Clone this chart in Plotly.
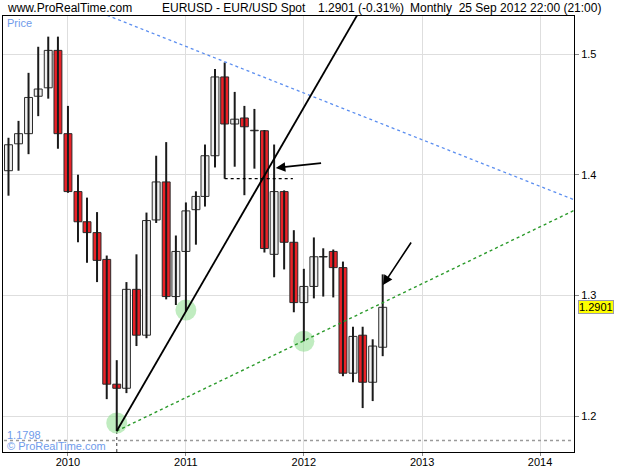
import plotly.graph_objects as go

# ---------------- data ----------------
months = ["2009-07-01", "2009-08-01", "2009-09-01", "2009-10-01", "2009-11-01", "2009-12-01",
          "2010-01-01", "2010-02-01", "2010-03-01", "2010-04-01", "2010-05-01", "2010-06-01",
          "2010-07-01", "2010-08-01", "2010-09-01", "2010-10-01", "2010-11-01", "2010-12-01",
          "2011-01-01", "2011-02-01", "2011-03-01", "2011-04-01", "2011-05-01", "2011-06-01",
          "2011-07-01", "2011-08-01", "2011-09-01", "2011-10-01", "2011-11-01", "2011-12-01",
          "2012-01-01", "2012-02-01", "2012-03-01", "2012-04-01", "2012-05-01", "2012-06-01",
          "2012-07-01", "2012-08-01", "2012-09-01"]
opens = [1.4033, 1.4256, 1.4340, 1.4650, 1.4720, 1.5030,
         1.4340, 1.3860, 1.3610, 1.3520, 1.3298, 1.2264,
         1.2230, 1.3050, 1.2670, 1.3625, 1.3940, 1.2990,
         1.3364, 1.3710, 1.3820, 1.4157, 1.4810, 1.4420,
         1.4470, 1.4364, 1.4364, 1.3340, 1.3860, 1.3440,
         1.2940, 1.3074, 1.3318, 1.3364, 1.3230, 1.2355,
         1.2670, 1.2280, 1.2570]
highs = [1.4306, 1.4446, 1.4844, 1.5060, 1.5144, 1.5144,
         1.4570, 1.4000, 1.3810, 1.3690, 1.3330, 1.2463,
         1.3110, 1.3340, 1.3686, 1.4157, 1.4270, 1.3496,
         1.3770, 1.3862, 1.4250, 1.4876, 1.4930, 1.4686,
         1.4570, 1.4545, 1.4370, 1.4250, 1.3870, 1.3540,
         1.3220, 1.3480, 1.3390, 1.3380, 1.3280, 1.2740,
         1.2740, 1.2636, 1.3174]
lows = [1.3826, 1.4033, 1.4170, 1.4485, 1.4630, 1.4215,
        1.3850, 1.3440, 1.3270, 1.3110, 1.2140, 1.1876,
        1.2190, 1.2580, 1.2645, 1.3600, 1.2967, 1.2920,
        1.2867, 1.3420, 1.3736, 1.4060, 1.3967, 1.4066,
        1.3830, 1.4050, 1.3355, 1.3150, 1.3215, 1.2860,
        1.2620, 1.2975, 1.2990, 1.2983, 1.2330, 1.2280,
        1.2066, 1.2124, 1.2496]
closes = [1.4248, 1.4340, 1.4640, 1.4710, 1.5030, 1.4340,
          1.3860, 1.3610, 1.3520, 1.3290, 1.2264, 1.2230,
          1.3050, 1.2670, 1.3620, 1.3940, 1.2990, 1.3364,
          1.3700, 1.3820, 1.4157, 1.4810, 1.4420, 1.4460,
          1.4397, 1.4368, 1.3388, 1.3860, 1.3440, 1.2940,
          1.3074, 1.3320, 1.3322, 1.3230, 1.2355, 1.2660,
          1.2280, 1.2580, 1.2901]

price_ticks = [1.2, 1.3, 1.4, 1.5]
price_tick_labels = ["1.2", "1.3", "1.4", "1.5"]
last_price = 1.2901
min_price = 1.1798

# drawn objects (date, price)
resistance_line = [("2010-01-01", 1.5449), ("2014-06-01", 1.3744)]
support_steep = [("2010-06-01", 1.1876), ("2012-08-01", 1.5544)]
support_flat = [("2010-06-01", 1.1876), ("2014-06-01", 1.3763)]
dashed_level = [("2011-05-01", 1.3967), ("2011-11-28", 1.3967)]
circle_dates = ["2010-06-01", "2011-01-01", "2012-01-01"]
circle_prices = [1.1942, 1.2878, 1.2620]
arrow1 = (("2011-10-06", 1.4056), ("2012-02-28", 1.4097))
arrow2 = (("2012-09-02", 1.3086), ("2012-12-01", 1.3451))

# ---------------- figure ----------------
fig = go.Figure()

# grey dotted line at lowest price
fig.add_trace(go.Scatter(x=["2009-01-01", "2014-12-31"], y=[min_price, min_price], mode="lines",
                         line=dict(color="#9a9a9a", width=1.5, dash="dot"), hoverinfo="skip"))
# vertical dotted line below the low
fig.add_trace(go.Scatter(x=["2010-06-01", "2010-06-01"], y=[1.1876, 1.10], mode="lines",
                         line=dict(color="#555555", width=1.2, dash="dot"), hoverinfo="skip"))

# green circles
fig.add_trace(go.Scatter(x=circle_dates, y=circle_prices, mode="markers",
                         marker=dict(size=21, color="rgba(140,220,140,0.55)", line=dict(width=0)),
                         hoverinfo="skip"))

# wicks
wx, wy = [], []
for d, h, l in zip(months, highs, lows):
    wx += [d, d, None]
    wy += [l, h, None]
fig.add_trace(go.Scatter(x=wx, y=wy, mode="lines", line=dict(color="#1a1a1a", width=2),
                         hoverinfo="skip"))

# bodies
base = [min(o, c) for o, c in zip(opens, closes)]
height = [max(abs(c - o), 0.0004) for o, c in zip(opens, closes)]
colors = ["#f0f0f0" if c >= o else "#ea2127" for o, c in zip(opens, closes)]
fig.add_trace(go.Bar(x=months, y=height, base=base, width=24.5 * 86400000,
                     marker=dict(color=colors, line=dict(color="#2a2a2a", width=1))))

# trend lines
fig.add_trace(go.Scatter(x=[p[0] for p in resistance_line], y=[p[1] for p in resistance_line],
                         mode="lines", line=dict(color="#5b8ef0", width=1.3, dash="dot"), hoverinfo="skip"))
fig.add_trace(go.Scatter(x=[p[0] for p in support_flat], y=[p[1] for p in support_flat],
                         mode="lines", line=dict(color="#2a9a2a", width=1.4, dash="dot"), hoverinfo="skip"))
fig.add_trace(go.Scatter(x=[p[0] for p in support_steep], y=[p[1] for p in support_steep],
                         mode="lines", line=dict(color="#000000", width=1.8), hoverinfo="skip"))
fig.add_trace(go.Scatter(x=[p[0] for p in dashed_level], y=[p[1] for p in dashed_level],
                         mode="lines", line=dict(color="#000000", width=1.2, dash="3px,3px"), hoverinfo="skip"))

annotations = []
for head, tail in (arrow1, arrow2):
    annotations.append(dict(x=head[0], y=head[1], ax=tail[0], ay=tail[1], xref="x", yref="y",
                            axref="x", ayref="y", text="", showarrow=True, arrowhead=2,
                            arrowsize=1.2, arrowwidth=1.6, arrowcolor="#000000"))

PL, PR, PT, PB = 3, 574, 16, 452


def px(xp):
    return (xp - PL) / (PR - PL)


def py(yp):
    return (PB - yp) / (PB - PT)


hdr_font = dict(family="Liberation Sans, Arial, sans-serif", size=12, color="#000000")
for txt, xp in [("www.ProRealTime.com", 5), ("EURUSD - EUR/USD Spot", 160),
                ("1.2901 (-0.31%)", 316), ("Monthly\u00a0\u00a025 Sep 2012 22:00 (21:00)", 408)]:
    annotations.append(dict(x=px(xp), y=py(8), xref="paper", yref="paper", text=txt,
                            showarrow=False, xanchor="left", yanchor="middle", font=hdr_font))

blue_font = dict(family="Liberation Sans, Arial, sans-serif", size=11, color="#6f9bea")
annotations.append(dict(x=px(5), y=py(23), xref="paper", yref="paper", text="Price", showarrow=False,
                        xanchor="left", yanchor="middle", font=blue_font))
annotations.append(dict(x=px(5), y=py(435), xref="paper", yref="paper", text=f"{min_price:.4f}",
                        showarrow=False, xanchor="left", yanchor="middle", font=blue_font))
annotations.append(dict(x=px(5), y=py(446), xref="paper", yref="paper", text="© ProRealTime.com",
                        showarrow=False, xanchor="left", yanchor="middle", font=blue_font))
annotations.append(dict(x=px(578), y=last_price, xref="paper", yref="y", text=f"{last_price:.4f}",
                        showarrow=False, xanchor="left", yanchor="middle", bgcolor="#ffff00",
                        bordercolor="#9a9aaa", borderwidth=1, borderpad=0,
                        font=dict(family="Liberation Sans, Arial, sans-serif", size=11, color="#000000")))

fig.update_layout(
    width=625, height=469,
    margin=dict(l=PL, r=625 - PR, t=PT, b=469 - PB, autoexpand=False),
    paper_bgcolor="white", plot_bgcolor="white",
    showlegend=False, barmode="overlay",
    annotations=annotations,
    font=dict(family="Liberation Sans, Arial, sans-serif", size=11, color="#000000"),
    xaxis=dict(type="date", range=["2009-06-14", "2014-04-16"], dtick="M12", tick0="2010-01-01",
               tickformat="%Y", showgrid=True, gridcolor="#dedede", gridwidth=1,
               showline=True, linecolor="#000000", linewidth=1, mirror=True, automargin=False,
               ticks="outside", ticklen=3, tickcolor="#888888", zeroline=False,
               ticklabelstandoff=-3, tickfont=dict(size=11)),
    yaxis=dict(side="right", range=[1.1702, 1.5315], tickvals=price_ticks, ticktext=price_tick_labels,
               showgrid=True, gridcolor="#dedede", gridwidth=1, automargin=False,
               showline=True, linecolor="#000000", linewidth=1, mirror=True,
               ticks="outside", ticklen=4, tickcolor="#888888", zeroline=False,
               tickfont=dict(size=11)),
)

fig.write_html("out.html")
